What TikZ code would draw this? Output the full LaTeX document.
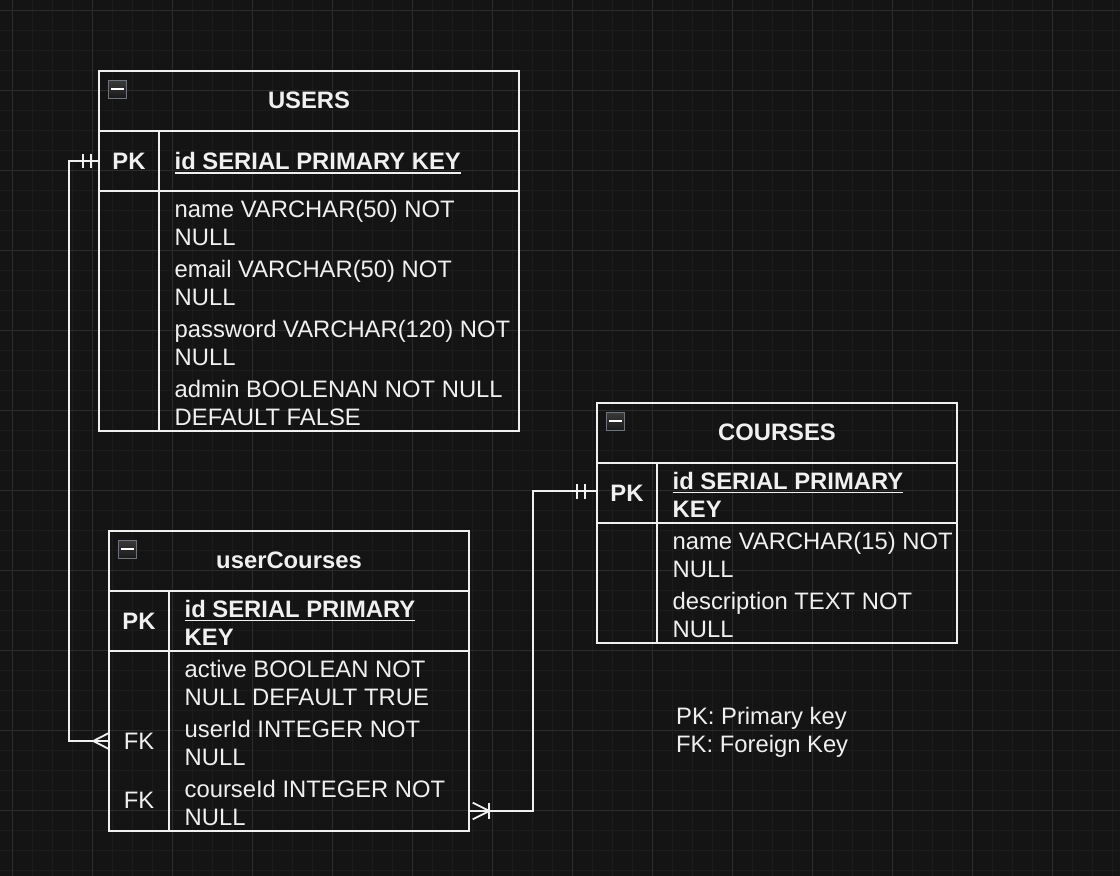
\documentclass[tikz,border=0pt]{standalone}
\usepackage{fontspec}
\setmainfont{Liberation Sans}
\newcommand\fsz{\fontsize{23.8pt}{28pt}\selectfont}
\newcommand\myul[1]{\setbox0=\hbox{#1}\rlap{\vrule width \wd0 height -2.5pt depth 4pt}\box0}
\definecolor{bg}{HTML}{141414}
\definecolor{gridminor}{HTML}{1C1C1C}
\definecolor{gridmajor}{HTML}{2C2C2C}
\definecolor{fg}{HTML}{F0F0F0}
\definecolor{iconedge}{HTML}{6D7480}
\tikzset{
  cell/.style={draw=fg, line width=1.8pt, inner sep=0pt, outer sep=0pt, anchor=north west},
  rowbox/.style={inner sep=0pt, outer sep=0pt, anchor=north west},
  ttl/.style={font=\fsz\bfseries, text=fg, anchor=base, inner sep=0pt},
  keyb/.style={font=\fsz\bfseries, text=fg, anchor=base, inner sep=0pt},
  keyr/.style={font=\fsz, text=fg, anchor=base, inner sep=0pt},
  pkf/.style={font=\fsz\bfseries, text=fg, anchor=base west, align=left, inner sep=0pt},
  fld/.style={font=\fsz, text=fg, anchor=base west, align=left, inner sep=0pt},
  icon/.style={draw=iconedge, line width=1.3pt, top color=gray!45!black, bottom color=gray!20!black, minimum size=17.5pt, inner sep=0pt, anchor=north west},
  iconbar/.style={draw=white, line width=2pt},
  conn/.style={draw=fg, line width=1.8pt},
}
\begin{document}
\begin{tikzpicture}[x=1pt,y=-1pt]
\useasboundingbox (0,0) rectangle (1120,876);
\fill[bg] (0,0) rectangle (1120,876);
% grid
\foreach \i in {0,...,55} {\draw[gridminor, line width=1pt] ({12.5+20*\i},0) -- ({12.5+20*\i},876);}
\foreach \i in {0,...,43} {\draw[gridminor, line width=1pt] (0,{10.7+20*\i}) -- (1120,{10.7+20*\i});}
\foreach \i in {0,...,13} {\draw[gridmajor, line width=1pt] ({12.5+80*\i},0) -- ({12.5+80*\i},876);}
\foreach \i in {0,...,10} {\draw[gridmajor, line width=1pt] (0,{10.7+80*\i}) -- (1120,{10.7+80*\i});}

% ===== USERS =====
\node[cell, minimum width=420pt, minimum height=360pt] (users) at (99,71) {};
\node[cell, minimum width=420pt, minimum height=60pt] (ustitle) at (99,71) {};
\node[cell, minimum width=60pt, minimum height=60pt] (uspk) at (99,131) {};
\node[cell, minimum width=360pt, minimum height=60pt] (uspkf) at (159,131) {};
\node[cell, minimum width=60pt, minimum height=240pt] (usbody) at (99,191) {};
\node[icon] (usicon) at (108,80) {};
\draw[iconbar] ([xshift=3pt]usicon.west) -- ([xshift=-3pt]usicon.east);
\node[ttl] (ustitletext) at (309,108.5) {USERS};
\node[keyb] (uspktext) at (129,169) {PK};
\node[pkf] (usid) at (174.5,169.5) {\myul{id SERIAL PRIMARY KEY}};
\node[fld] (usname) at (174.5,245.5) {name VARCHAR(50) NOT\\NULL};
\node[fld] (usemail) at (174.5,305.5) {email VARCHAR(50) NOT\\NULL};
\node[fld] (uspass) at (174.5,365.5) {password VARCHAR(120) NOT\\NULL};
\node[fld] (usadmin) at (174.5,425.5) {admin BOOLENAN NOT NULL\\DEFAULT FALSE};

% ===== COURSES =====
\node[cell, minimum width=360pt, minimum height=240pt] (courses) at (597,403) {};
\node[cell, minimum width=360pt, minimum height=60pt] (cstitle) at (597,403) {};
\node[cell, minimum width=60pt, minimum height=60pt] (cspk) at (597,463) {};
\node[cell, minimum width=300pt, minimum height=60pt] (cspkf) at (657,463) {};
\node[cell, minimum width=60pt, minimum height=120pt] (csbody) at (597,523) {};
\node[icon] (csicon) at (606,412) {};
\draw[iconbar] ([xshift=3pt]csicon.west) -- ([xshift=-3pt]csicon.east);
\node[ttl] (cstitletext) at (777,440.5) {COURSES};
\node[keyb] (cspktext) at (627,501) {PK};
\node[pkf] (csid) at (672.5,517) {\myul{id SERIAL PRIMARY}\\KEY};
\node[fld] (csname) at (672.5,577.3) {name VARCHAR(15) NOT\\NULL};
\node[fld] (csdesc) at (672.5,637.3) {description TEXT NOT\\NULL};

% ===== userCourses =====
\node[cell, minimum width=360pt, minimum height=300pt] (usercourses) at (109,531) {};
\node[cell, minimum width=360pt, minimum height=60pt] (uctitle) at (109,531) {};
\node[cell, minimum width=60pt, minimum height=60pt] (ucpk) at (109,591) {};
\node[cell, minimum width=300pt, minimum height=60pt] (ucpkf) at (169,591) {};
\node[cell, minimum width=60pt, minimum height=180pt] (ucbody) at (109,651) {};
\node[rowbox, minimum width=360pt, minimum height=60pt] (ucuser) at (109,711) {};
\node[rowbox, minimum width=360pt, minimum height=60pt] (uccourse) at (109,771) {};
\node[icon] (ucicon) at (118,540) {};
\draw[iconbar] ([xshift=3pt]ucicon.west) -- ([xshift=-3pt]ucicon.east);
\node[ttl] (uctitletext) at (289,568.8) {userCourses};
\node[keyb] (ucpktext) at (139,629) {PK};
\node[pkf] (ucid) at (184.5,645.3) {\myul{id SERIAL PRIMARY}\\KEY};
\node[fld] (ucactive) at (184.5,705.3) {active BOOLEAN NOT\\NULL DEFAULT TRUE};
\node[fld] (ucuserid) at (184.5,765.3) {userId INTEGER NOT\\NULL};
\node[fld] (uccourseid) at (184.5,825.3) {courseId INTEGER NOT\\NULL};
\node[keyr] (ucfk1) at (139,749.3) {FK};
\node[keyr] (ucfk2) at (139,808.3) {FK};

% ===== legend =====
\node[fld] (legend) at (676,752) {PK: Primary key\\FK: Foreign Key};

% ===== connectors =====
% USERS.id -> userCourses.userId
\draw[conn] (uspk.west) -- ++(-30,0) |- (ucuser.west);
\draw[conn] ([xshift=-15.7pt]uspk.west) ++(0,-7) -- ++(0,14);
\draw[conn] ([xshift=-8.3pt]uspk.west) ++(0,-7) -- ++(0,14);
\draw[conn] ([xshift=-0.7pt]ucuser.west) ++(0,-7.7) -- ++(-15,7.7) -- ++(15,7.7);
% COURSES.id -> userCourses.courseId
\draw[conn] ([yshift=2pt]cspk.west) -- ++(-64,0) |- ([yshift=-10pt]uccourse.east);
\draw[conn] ([xshift=-20.3pt,yshift=2pt]cspk.west) ++(0,-7.5) -- ++(0,15);
\draw[conn] ([xshift=-12pt,yshift=2pt]cspk.west) ++(0,-7.5) -- ++(0,15);
\draw[conn] ([xshift=3.7pt,yshift=-10pt]uccourse.east) ++(0,-8.3) -- ++(16.6,8.3) -- ++(-16.6,8.3);
\draw[conn] ([xshift=20.3pt,yshift=-10pt]uccourse.east) ++(0,-8) -- ++(0,16);
\end{tikzpicture}
\end{document}
